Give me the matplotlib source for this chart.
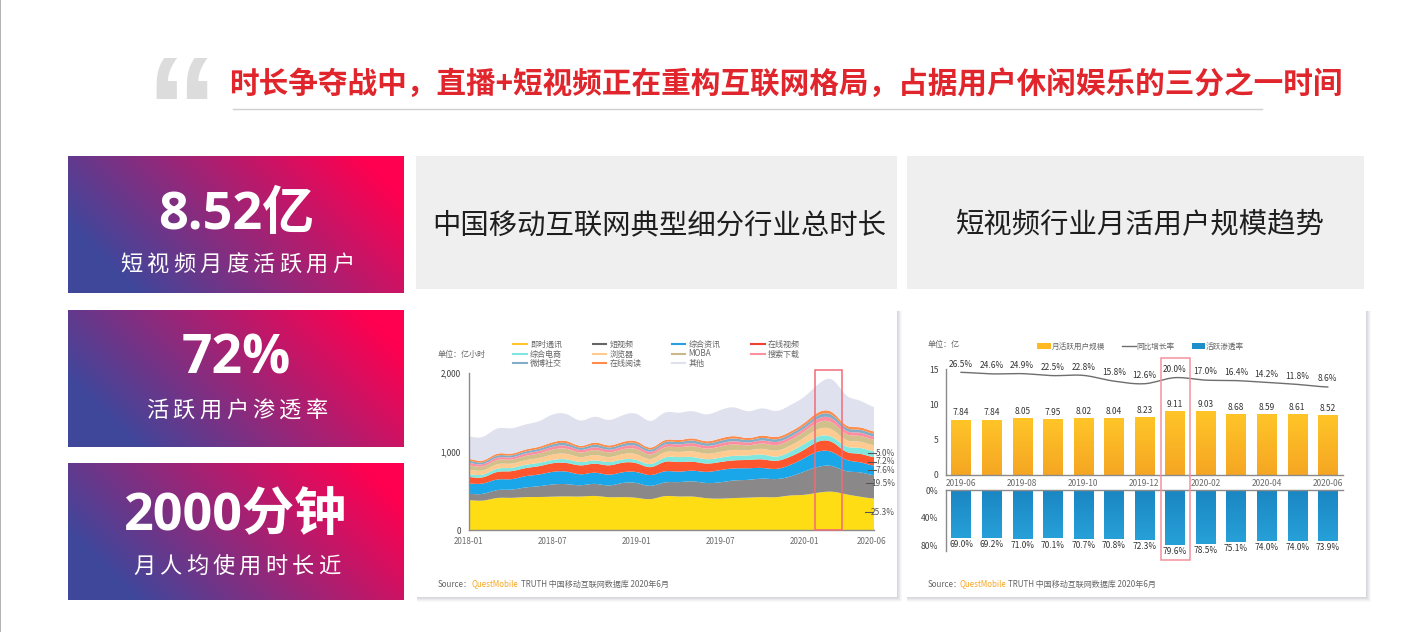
import numpy as np
import matplotlib
matplotlib.use("Agg")
import matplotlib.pyplot as plt
from matplotlib.font_manager import FontProperties
from matplotlib.lines import Line2D
from matplotlib.patches import Patch, Rectangle
from matplotlib.colors import LinearSegmentedColormap

plt.rcParams['font.family'] = ['Noto Sans CJK SC', 'DejaVu Sans']
plt.rcParams['axes.unicode_minus'] = False

W, H = 1419, 632

# ---------- text ----------
headline = "时长争夺战中，直播+短视频正在重构互联网格局，占据用户休闲娱乐的三分之一时间"
panel_titles = ["中国移动互联网典型细分行业总时长", "短视频行业月活用户规模趋势"]
kpi_values = ["8.52亿", "72%", "2000分钟"]
kpi_labels = ["短视频月度活跃用户", "活跃用户渗透率", "月人均使用时长近"]

# ---------- stream chart data (亿小时, monthly 2018-01 .. 2020-06) ----------
stream_names = ["即时通讯", "短视频", "综合资讯", "在线视频", "综合电商", "浏览器",
                "MOBA", "搜索下载", "微博社交", "在线阅读", "其他"]
im_hours = [381,369,411,407,419,419,424,428,424,436,415,419,411,386,436,424,428,403,398,407,411,419,415,441,445,475,491,453,424,398]
short_video = [80,85,102,102,123,136,157,157,140,157,144,182,191,165,174,182,195,191,208,225,225,237,229,237,297,330,330,288,314,292]
news = [131,131,136,131,144,148,161,161,136,144,136,136,140,136,144,131,136,140,157,153,148,136,127,148,169,199,178,144,127,123]
online_video = [85,76,97,102,102,106,110,110,114,114,119,123,114,97,123,123,114,106,102,102,106,110,102,106,106,127,131,97,110,106]
ecommerce = [34,34,42,42,42,42,42,47,42,42,42,42,42,38,55,64,59,55,55,59,55,64,51,64,76,64,64,68,76,76]
browser = [60,52,58,53,58,61,68,71,60,70,62,66,73,61,68,64,73,68,74,76,65,73,75,76,79,93,97,79,79,75]
moba = [56,49,55,50,55,57,63,66,56,65,58,62,68,57,63,59,68,63,69,71,60,68,70,71,74,87,90,74,74,70]
search = [32,28,31,28,31,32,36,38,32,37,33,35,39,32,36,34,39,36,39,41,35,39,40,41,42,49,52,42,42,40]
weibo = [28,24,27,25,27,28,32,33,28,33,29,31,34,28,32,30,34,32,34,36,30,34,35,36,37,43,45,37,37,35]
reading = [23,21,24,22,24,25,26,29,23,28,26,26,28,25,26,25,28,26,30,30,26,28,30,30,31,37,38,31,31,30]
others = [284,301,322,322,318,322,356,343,318,330,322,339,352,335,352,347,347,339,360,369,335,352,326,339,330,352,424,381,339,309]
stream_series = [im_hours, short_video, news, online_video, ecommerce, browser,
                 moba, search, weibo, reading, others]
stream_colors = ["#FFDD15", "#8A8888", "#1AA7EA", "#FF5630", "#7FE6E0", "#FFCB91",
                 "#D2C08C", "#FF8FA0", "#82ADC6", "#FF8C4A", "#DFE2EE"]
legend_colors = ["#FFC72C", "#666666", "#2A9FE0", "#F04030", "#7FE6E0", "#FFCB91",
                 "#C8B88A", "#FF8FA0", "#82ADC6", "#FF8C4A", "#DFE2EE"]
stream_tick_labels = ["2018-01", "2018-07", "2019-01", "2019-07", "2020-01", "2020-06"]
share_labels = ["5.0%", "7.2%", "7.6%", "19.5%", "25.3%"]

# ---------- bar chart data ----------
months = ["2019-06", "2019-07", "2019-08", "2019-09", "2019-10", "2019-11", "2019-12",
          "2020-01", "2020-02", "2020-03", "2020-04", "2020-05", "2020-06"]
mau = [7.84, 7.84, 8.05, 7.95, 8.02, 8.04, 8.23, 9.11, 9.03, 8.68, 8.59, 8.61, 8.52]
yoy = [26.5, 24.6, 24.9, 22.5, 22.8, 15.8, 12.6, 20.0, 17.0, 16.4, 14.2, 11.8, 8.6]
penetration = [69.0, 69.2, 71.0, 70.1, 70.7, 70.8, 72.3, 79.6, 78.5, 75.1, 74.0, 74.0, 73.9]
bar_legend = ["月活跃用户规模", "同比增长率", "活跃渗透率"]


def smooth(values, n=12, soften=0.0):
    """Catmull-Rom drawing curve through the read values, optionally softened."""
    v = np.asarray(values, float)
    p = np.concatenate([[v[0]], v, [v[-1]]])
    out, xs = [], []
    for i in range(len(v) - 1):
        t = np.linspace(0, 1, n, endpoint=False)
        a, b, c, d = p[i], p[i + 1], p[i + 2], p[i + 3]
        out.append(0.5 * (2 * b + (c - a) * t + (2 * a - 5 * b + 4 * c - d) * t ** 2 + (3 * b - a - 3 * c + d) * t ** 3))
        xs.append(i + t)
    x = np.concatenate(xs + [[len(v) - 1]])
    y = np.concatenate(out + [[v[-1]]])
    if soften > 0:
        r = int(3 * soften)
        k = np.exp(-0.5 * (np.arange(-r, r + 1) / soften) ** 2)
        k /= k.sum()
        y = np.convolve(np.pad(y, r, mode="edge"), k, mode="valid")
    return x, y


fig = plt.figure(figsize=(W / 100, H / 100), dpi=100, facecolor="white")


def axes_px(l, t, r, b, **kw):
    return fig.add_axes([l / W, 1 - b / H, (r - l) / W, (b - t) / H], **kw)


# ---------- background layer, in pixel coordinates ----------
bg = axes_px(0, 0, W, H)
bg.set_zorder(0)
bg.axis("off")

bg.add_patch(Rectangle((0, 0), 1.2, H, color="#B4B4B4", lw=0))
bg.text(145, 158, "“", family="Liberation Sans", weight="bold", fontsize=104, color="#DCDCDC",
        va="baseline", ha="left")
bg.text(229, 84, headline, fontsize=21.35, weight="bold", color="#E0262C", va="center", ha="left")
bg.plot([233, 1262], [108.5, 108.5], color="#CFCFCF", lw=1)

cmap = LinearSegmentedColormap.from_list("kpi", ["#3F479B", "#FF0050"])
cards = [(68, 156, 404, 293), (68, 310, 404, 447), (68, 463, 404, 600)]
for (l, t, r, b) in cards:
    xx, yy = np.meshgrid(np.arange(r - l), np.arange(b - t))
    s = np.clip((xx + (b - t - yy) - 70) / 360, 0, 1)
    bg.imshow(s, extent=(l, r, b, t), cmap=cmap, vmin=0, vmax=1, aspect="auto", interpolation="bilinear", zorder=1)

for (l, t, r, b) in [(416, 156, 897, 289), (907, 156, 1364, 289)]:
    bg.add_patch(Rectangle((l, t), r - l, b - t, color="#EFEFEF", lw=0))
bg.text(659.5, 225, panel_titles[0], fontsize=20.4, color="#1E1E1E", ha="center", va="center")
bg.text(1140, 225, panel_titles[1], fontsize=20.4, color="#1E1E1E", ha="center", va="center")

for (l, t, r, b) in [(416, 310, 897, 597), (906, 310, 1366, 597)]:
    for k, a in zip((5, 4, 3, 2, 1), (0.03, 0.04, 0.05, 0.06, 0.07)):
        bg.add_patch(Rectangle((l + 1, t + 1), r - l - 1 + k, b - t - 1 + k, color="#55556A", alpha=a, lw=0))
    bg.add_patch(Rectangle((l, t), r - l, b - t, color="white", lw=0))
bg.set_xlim(0, W)
bg.set_ylim(H, 0)

# ---------- stream chart ----------
ax = axes_px(469, 372.7, 874, 530)
ax.set_zorder(2)
ax.patch.set_alpha(0)
xfine = smooth(stream_series[0])[0]
ax.stackplot(xfine, [smooth(s, soften=4)[1] for s in stream_series], colors=stream_colors, lw=0)
ax.set_xlim(0, 29)
ax.set_ylim(0, 2000)
ax.set_xticks([0, 6, 12, 18, 24, 28.85])
ax.set_xticklabels(stream_tick_labels, fontsize=5.8, color="#6A6A6A")
ax.set_yticks([0, 1000, 2000])
ax.set_yticklabels(["0", "1,000", "2,000"], fontsize=5.8, color="#3A3A3A", weight="medium")
ax.tick_params(length=0, pad=6)
ax.tick_params(axis="x", pad=5)
for k in ("top", "right"):
    ax.spines[k].set_visible(False)
for k in ("left", "bottom"):
    ax.spines[k].set_color("#8A8A8A")
    ax.spines[k].set_linewidth(1.0)

stream_handles = [Line2D([], [], color=c, lw=1.5) for c in legend_colors]

# ---------- bar chart, upper part ----------
xs = np.arange(len(months))
top = axes_px(945.5, 369.3, 1342.7, 474.7)
top.set_zorder(2)
top.patch.set_alpha(0)
bars = top.bar(xs, mau, width=0.63, color="#FFB925", lw=0)
gold = LinearSegmentedColormap.from_list("gold", ["#F5A623", "#FFC528"])
for b in bars:
    im = top.imshow(np.linspace(0, 1, 64).reshape(-1, 1), cmap=gold, origin="lower", aspect="auto",
                    extent=(b.get_x(), b.get_x() + b.get_width(), 0, b.get_height()), zorder=2)
    im.set_clip_path(b)
top.set_xlim(-0.51, 12.49)
top.set_ylim(0, 15)
top.set_yticks([0, 5, 10, 15])
top.set_yticklabels(["0", "5", "10", "15"], fontsize=6.2, color="#444444")
top.set_xticks(xs[::2])
top.set_xticklabels(months[::2], fontsize=6.0, color="#6A6A6A")
top.tick_params(length=0)
top.tick_params(axis="y", pad=5)
top.tick_params(axis="x", pad=3)
for k in ("top", "right"):
    top.spines[k].set_visible(False)
for k in ("left", "bottom"):
    top.spines[k].set_color("#8A8A8A")
    top.spines[k].set_linewidth(1.0)
for x, v in zip(xs, mau):
    top.annotate(f"{v:.2f}", (x, v), xytext=(0, 4.8), textcoords="offset points", ha="center", va="center",
                 fontsize=6.0, color="#333333", zorder=5)

line_ax = top.twinx()
line_ax.set_ylim(-98.3, 30.2)
line_ax.axis("off")
lx, ly = smooth(yoy)
line_ax.plot(lx, ly, color="#6E6E6E", lw=1.0)
for x, v in zip(xs, yoy):
    line_ax.annotate(f"{v:.1f}%", (x, v), xytext=(0, 6), textcoords="offset points", ha="center", va="center",
                     fontsize=6.0, color="#333333")

# ---------- bar chart, lower part ----------
low = axes_px(945.5, 490, 1342.7, 550.7)
low.set_zorder(2)
low.patch.set_alpha(0)
lbars = low.bar(xs, penetration, width=0.63, color="#1C8FCB", lw=0)
blue = LinearSegmentedColormap.from_list("blue", ["#1A86C2", "#27A0D8"])
for b in lbars:
    im = low.imshow(np.linspace(0, 1, 64).reshape(-1, 1), cmap=blue, origin="upper", aspect="auto",
                    extent=(b.get_x(), b.get_x() + b.get_width(), b.get_height(), 0), zorder=2)
    im.set_clip_path(b)
low.set_xlim(-0.51, 12.49)
low.set_ylim(88, 0)
low.set_yticks([0, 40, 80])
low.set_yticklabels(["0%", "40%", "80%"], fontsize=6.2, color="#444444")
low.set_xticks([])
low.tick_params(length=0, pad=5)
for k in ("bottom", "right"):
    low.spines[k].set_visible(False)
for k in ("left", "top"):
    low.spines[k].set_color("#8A8A8A")
    low.spines[k].set_linewidth(1.0)
for x, v in zip(xs, penetration):
    low.annotate(f"{v:.1f}%", (x, v), xytext=(0, -4.8), textcoords="offset points", ha="center", va="center",
                 fontsize=6.0, color="#333333", zorder=5)

# ---------- top overlay, in pixel coordinates ----------
ov = axes_px(0, 0, W, H)
ov.set_zorder(10)
ov.patch.set_alpha(0)
ov.axis("off")
ov.set_xlim(0, W)
ov.set_ylim(H, 0)

stream_order = [0, 4, 8, 1, 5, 9, 2, 6, 10, 3, 7]
ov.legend([stream_handles[i] for i in stream_order], [stream_names[i] for i in stream_order],
          ncol=4, loc="center", bbox_to_anchor=(656.7, 354), bbox_transform=ov.transData,
          frameon=False, fontsize=5.8, labelcolor="#666666", handlelength=1.67, handletextpad=0.4,
          columnspacing=3.8, labelspacing=0.1, borderpad=0, borderaxespad=0)

ov.add_artist(ov.get_legend())
ov.legend([Patch(color="#FFB925", lw=0), Line2D([], [], color="#6E6E6E", lw=1), Patch(color="#1C8FCB", lw=0)],
          bar_legend, ncol=3, loc="center", bbox_to_anchor=(1140.8, 347), bbox_transform=ov.transData,
          frameon=False, fontsize=5.5, labelcolor="#666666", handlelength=1.8, handleheight=0.8, handletextpad=0.1,
          columnspacing=2.2, borderpad=0, borderaxespad=0)

small = dict(fontsize=5.8, color="#666666", va="center", ha="left")
ov.text(438, 354.3, "单位：亿小时", **small)
ov.text(927.7, 345, "单位：亿", **small)
for x0, x1, x2 in [(438, 471.7, 521), (927.7, 959.3, 1007.5)]:
    ov.text(x0, 584, "Source：", **small)
    ov.text(x1, 584, "QuestMobile", fontsize=5.7, color="#F5A623", va="center", ha="left")
    ov.text(x2, 584, "TRUTH 中国移动互联网数据库 2020年6月", **small)

# share call-outs beside the stream chart
for lab, y, x0, x1 in zip(share_labels, [453.3, 462, 470.3, 483, 512.3],
                          [868, 868, 868, 866, 865], [876, 876, 876, 873, 873]):
    ov.plot([x0, x1], [y, y], color="#555555", lw=0.8)
    ov.text(895, y, lab, fontsize=6.0, color="#555555", ha="right", va="center")

# highlight frames
ov.add_patch(Rectangle((815.3, 370), 26.7, 160, fill=False, ec="#F26B78", lw=1.1))
ov.add_patch(Rectangle((1160.5, 357.7), 29.5, 202.6, fill=False, ec="#F4929E", lw=1.1))


def spaced(text, x0, x1, baseline, size):
    fp = FontProperties(family=['Noto Sans CJK SC', 'DejaVu Sans'], size=size)
    rend = fig.canvas.get_renderer()
    widths = [rend.get_text_width_height_descent(c, fp, False)[0] for c in text]
    gap = (x1 - x0 - sum(widths)) / max(len(text) - 1, 1)
    x = x0
    for c, w in zip(text, widths):
        ov.text(x, baseline, c, fontproperties=fp, color="white", ha="left", va="baseline")
        x += w + gap


for text, (cx, base, size) in zip(kpi_values, [(236, 229, 37.5), (236, 373, 38.5), (235.5, 530, 37.5)]):
    ov.text(cx, base, text, family=['Open Sans', 'Noto Sans CJK SC'], weight="bold", fontsize=size,
            color="white", ha="center", va="baseline")
for text, (x0, x1, base) in zip(kpi_labels, [(120, 354, 271), (146, 328, 417), (133, 340, 573)]):
    spaced(text, x0, x1, base, 16)

fig.savefig("out.png", dpi=100, facecolor="white")
